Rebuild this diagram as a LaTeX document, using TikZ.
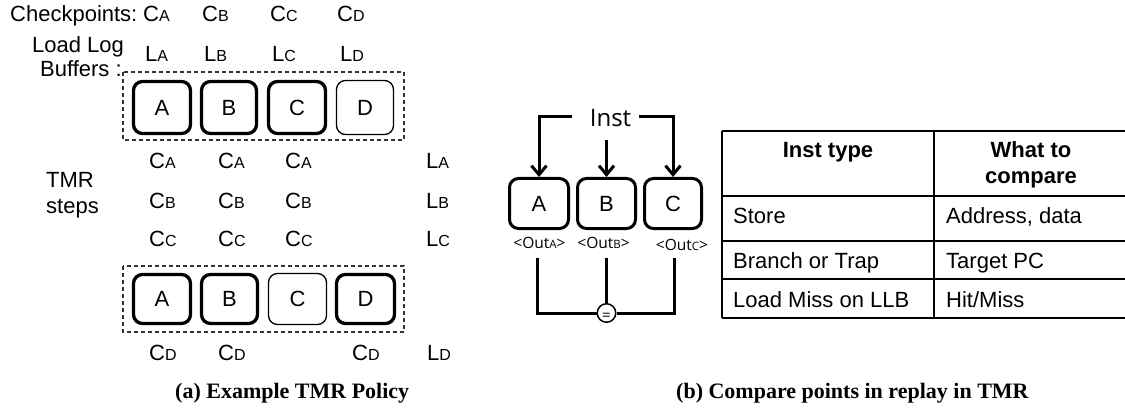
\documentclass[tikz,border=0pt]{standalone}
\usepackage{fontspec}
\setmainfont{Liberation Sans}
\newfontfamily\segfont{Open Sans}
\newfontfamily\capfont{Liberation Serif}
\usetikzlibrary{arrows.meta}
\newcommand\subl[1]{{\fontsize{16}{16}\selectfont #1}}
\newcommand\subo[1]{{\fontsize{11.5}{11.5}\selectfont #1}}
\begin{document}
\begin{tikzpicture}[x=1pt,y=-1pt,
  txt/.style={inner sep=0pt, anchor=base west, font=\fontsize{22}{26}\selectfont},
  ctxt/.style={inner sep=0pt, anchor=base, font=\fontsize{22}{26}\selectfont},
  thickbox/.style={draw, line width=3.3pt, rounded corners=9pt, minimum width=57pt, minimum height=52pt, inner sep=0pt, font=\fontsize{22}{26}\selectfont},
  thinbox/.style={draw, line width=1.3pt, rounded corners=9pt, minimum width=57pt, minimum height=54pt, inner sep=0pt, font=\fontsize{22}{26}\selectfont},
  dashbox/.style={draw=black!80, line width=1.3pt, dash pattern=on 4pt off 3pt},
  wire/.style={line width=3pt},
  arr/.style={wire, -{Straight Barb[length=9pt,width=15pt]}},
  outl/.style={inner sep=0pt, anchor=base, font=\segfont\fontsize{15.5}{15.5}\selectfont},
  tline/.style={line width=1.4pt},
  captxt/.style={inner sep=0pt, anchor=base west, font=\capfont\bfseries\fontsize{22}{26}\selectfont}
]
\useasboundingbox (0,0) rectangle (1125,409);

% ---------- (a) left panel ----------
\node[txt] (chk) at (10,22) {Checkpoints:};
\node[txt] (hca) at (143,22) {C\subl{A}};
\node[txt] (hcb) at (202,22) {C\subl{B}};
\node[txt] (hcc) at (270,22) {C\subl{C}};
\node[txt] (hcd) at (337,22) {C\subl{D}};
\node[txt] (llog) at (32,53) {Load Log};
\node[txt] (lbuf) at (40,77) {Buffers :};
\node[txt] (hla) at (145,62) {L\subl{A}};
\node[txt] (hlb) at (204,62) {L\subl{B}};
\node[txt] (hlc) at (272,62) {L\subl{C}};
\node[txt] (hld) at (340,62) {L\subl{D}};

\draw[dashbox] (123,72) rectangle (404,140);
\node[thickbox] (tA) at (162,107.5) {A};
\node[thickbox, minimum width=55pt] (tB) at (229,107.5) {B};
\node[thickbox] (tC) at (297,107.5) {C};
\node[thinbox] (tD) at (365,107.5) {D};

\node[txt] (tmr1) at (46,187) {TMR};
\node[txt] (tmr2) at (46,213) {steps};

\node[txt] (r1a) at (149,169) {C\subl{A}};
\node[txt] (r1b) at (218,169) {C\subl{A}};
\node[txt] (r1c) at (285,169) {C\subl{A}};
\node[txt] (r1l) at (426,169) {L\subl{A}};
\node[txt] (r2a) at (149,208) {C\subl{B}};
\node[txt] (r2b) at (218,208) {C\subl{B}};
\node[txt] (r2c) at (285,208) {C\subl{B}};
\node[txt] (r2l) at (426,208) {L\subl{B}};
\node[txt] (r3a) at (149,246) {C\subl{C}};
\node[txt] (r3b) at (218,246) {C\subl{C}};
\node[txt] (r3c) at (285,246) {C\subl{C}};
\node[txt] (r3l) at (426,246) {L\subl{C}};

\draw[dashbox] (123,266) rectangle (404,332);
\node[thickbox, minimum height=49pt] (bA) at (162,299) {A};
\node[thickbox, minimum height=49pt, minimum width=56pt] (bB) at (229.5,299) {B};
\node[thinbox, minimum height=51pt, minimum width=58pt] (bC) at (297.5,299) {C};
\node[thickbox, minimum height=49pt, minimum width=58pt] (bD) at (365.5,299) {D};

\node[txt] (r4a) at (149,360) {C\subl{D}};
\node[txt] (r4b) at (218,360) {C\subl{D}};
\node[txt] (r4c) at (352,360) {C\subl{D}};
\node[txt] (r4l) at (427,360) {L\subl{D}};

\node[captxt] (capa) at (175,398) {(a) Example TMR Policy};

% ---------- (b) right panel ----------
\node[inner sep=0pt, anchor=base, font=\segfont\fontsize{24}{24}\selectfont] (inst) at (610.5,127) {Inst};
\node[thickbox, line width=3pt, minimum width=59pt, minimum height=50pt] (rA) at (539,203.5) {A};
\node[thickbox, line width=3pt, minimum width=58pt, minimum height=50pt] (rB) at (606.5,203.5) {B};
\node[thickbox, line width=3pt, minimum width=57pt, minimum height=50pt] (rC) at (673,203.5) {C};

\coordinate (il) at (572,117);
\coordinate (ir) at (639,117);
\coordinate (mtop) at (606.5,140);
\draw[arr] (il) -| (rA.north);
\draw[arr] (ir) -| (rC.north);
\draw[arr] (mtop) -- (mtop |- rB.north);

\node[outl] (oA) at (539.5,248) {<Out\subo{A}>};
\node[outl] (oB) at (603.5,248) {<Out\subo{B}>};
\node[outl] (oC) at (682,250) {<Out\subo{C}>};

\node[circle, draw, line width=1.5pt, minimum size=18.5pt, inner sep=0pt, fill=white] (eq) at (606.5,313) {};
\node[inner sep=0pt, font=\segfont\fontsize{15}{15}\selectfont] (eqs) at ([yshift=-4pt]eq.center) {=};

\coordinate (va) at (537,258);
\coordinate (vb) at (606.5,258);
\coordinate (vc) at (674,258);
\draw[wire] (va) |- (eq.west);
\draw[wire] (vc) |- (eq.east);
\draw[wire] (vb) -- (eq.north);

% table
\draw[tline] (722,131) -- (1125,131);
\draw[line width=2.6pt] (722,196) -- (1125,196);
\draw[tline] (722,241) -- (1125,241);
\draw[tline] (722,279) -- (1125,279);
\draw[tline] (722,318) -- (1125,318);
\draw[tline] (722,131) -- (722,318);
\draw[tline] (934,131) -- (934,318);

\node[ctxt, font=\bfseries\fontsize{22}{26}\selectfont] (h1) at (828,158) {Inst type};
\node[ctxt, font=\bfseries\fontsize{22}{26}\selectfont] (h2a) at (1031,158) {What to};
\node[ctxt, font=\bfseries\fontsize{22}{26}\selectfont] (h2b) at (1031,183) {compare};
\node[txt] (c11) at (733,223) {Store};
\node[txt] (c12) at (946,223) {Address, data};
\node[txt] (c21) at (733,268) {Branch or Trap};
\node[txt] (c22) at (946,268) {Target PC};
\node[txt] (c31) at (733,307) {Load Miss on LLB};
\node[txt] (c32) at (946,307) {Hit/Miss};

\node[captxt] (capb) at (676,398) {(b) Compare points in replay in TMR};
\end{tikzpicture}
\end{document}
